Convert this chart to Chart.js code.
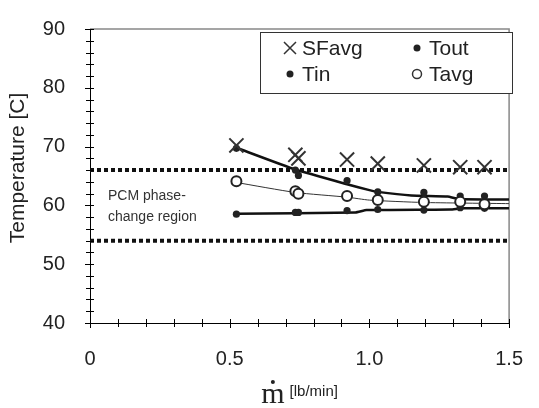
<!DOCTYPE html>
<html>
<head>
<meta charset="utf-8">
<script src="https://cdn.jsdelivr.net/npm/chart.js@4.4.1/dist/chart.umd.min.js"></script>
<style>
  html, body { margin: 0; padding: 0; background: #fff; }
</style>
</head>
<body>
<canvas id="mycanvas" width="539" height="408"></canvas>
<script>
// measured points (mass flow in lb/min)
var flow  = [0.524, 0.735, 0.746, 0.92, 1.03, 1.195, 1.325, 1.412];
var sfAvg = [70.2, 68.6, 68.0, 67.8, 67.1, 66.8, 66.5, 66.5];
var tOut  = [69.7, 66.0, 65.1, 64.2, 62.3, 62.2, 61.6, 61.6];
var tIn   = [58.5, 58.8, 58.8, 59.1, 59.3, 59.2, 59.6, 59.5];
var tAvg  = [64.1, 62.4, 62.0, 61.6, 60.9, 60.6, 60.6, 60.2];

// trend lines
var toutFitX = [0.524, 0.735, 0.92, 1.0, 1.03, 1.15, 1.28, 1.32, 1.5];
var toutFit  = [69.8, 66.1, 63.6, 62.6, 62.3, 61.7, 61.5, 61.1, 61.0];
var tavgFitX = [0.524, 0.735, 0.92, 1.0, 1.19, 1.5];
var tavgFit  = [63.9, 62.2, 61.4, 60.9, 60.5, 60.3];
var tinFitX  = [0.524, 0.95, 0.99, 1.29, 1.33, 1.5];
var tinFit   = [58.6, 58.8, 59.2, 59.3, 59.5, 59.5];

// PCM phase-change band
var bandX = [0, 1.5];
var bandLow = 54;
var bandHigh = 66;

var xTicks = [0, 0.5, 1, 1.5];
var yTicks = [40, 50, 60, 70, 80, 90];

function pts(xs, ys) {
  var out = [];
  for (var i = 0; i < xs.length; i++) out.push({x: xs[i], y: ys[i]});
  return out;
}

var ink = '#222';
var sans = '"Liberation Sans", Arial, sans-serif';

var chartdata = {
  datasets: [
    { label: 'SFavg', data: pts(flow, sfAvg), showLine: false, pointStyle: 'crossRot',
      pointRadius: 10, borderColor: '#333', borderWidth: 2, order: 1 },
    { label: 'Tout', data: pts(flow, tOut), showLine: false, pointStyle: 'circle',
      pointRadius: 3.6, backgroundColor: ink, borderColor: ink, borderWidth: 0, order: 2 },
    { label: 'Tin', data: pts(flow, tIn), showLine: false, pointStyle: 'circle',
      pointRadius: 3.6, backgroundColor: ink, borderColor: ink, borderWidth: 0, order: 2 },
    { label: 'Tavg', data: pts(flow, tAvg), showLine: false, pointStyle: 'circle',
      pointRadius: 5, backgroundColor: '#fff', borderColor: ink, borderWidth: 2, order: 0 },
    { label: 'toutFit', data: pts(toutFitX, toutFit), showLine: true, pointRadius: 0,
      borderColor: '#111', borderWidth: 2.5, tension: 0.15, order: 5 },
    { label: 'tavgFit', data: pts(tavgFitX, tavgFit), showLine: true, pointRadius: 0,
      borderColor: '#333', borderWidth: 1, tension: 0.2, order: 5 },
    { label: 'tinFit', data: pts(tinFitX, tinFit), showLine: true, pointRadius: 0,
      borderColor: '#111', borderWidth: 2.5, tension: 0.15, order: 5 },
    { label: 'bandHigh', data: pts(bandX, [bandHigh, bandHigh]), showLine: true, pointRadius: 0,
      borderColor: '#111', borderWidth: 4, borderDash: [4, 3], order: 6 },
    { label: 'bandLow', data: pts(bandX, [bandLow, bandLow]), showLine: true, pointRadius: 0,
      borderColor: '#111', borderWidth: 4, borderDash: [4, 3], order: 6 }
  ]
};

// ticks crossing the axes, frame, legend box, titles
var decor = {
  id: 'decor',
  beforeDatasetsDraw: function(chart) {
    var ctx = chart.ctx, a = chart.chartArea;
    ctx.save();
    ctx.strokeStyle = '#888';
    ctx.lineWidth = 1.5;
    ctx.beginPath();
    ctx.moveTo(a.left, a.top); ctx.lineTo(a.right, a.top); ctx.lineTo(a.right, a.bottom);
    ctx.stroke();
    ctx.restore();
  },
  afterDraw: function(chart) {
    var ctx = chart.ctx, a = chart.chartArea;
    var xs = chart.scales.x, ys = chart.scales.y;
    ctx.save();
    ctx.strokeStyle = '#000';
    ctx.lineWidth = 1;
    ctx.beginPath();
    for (var v = 40; v <= 90; v += 2) {
      var py = Math.round(ys.getPixelForValue(v)) + 0.5;
      var major = v % 10 === 0;
      ctx.moveTo(a.left - (major ? 5 : 4), py); ctx.lineTo(a.left + 4, py);
    }
    for (var k = 0; k <= 15; k++) {
      var px = Math.round(xs.getPixelForValue(k / 10)) + 0.5;
      var maj = k % 5 === 0;
      ctx.moveTo(px, a.bottom - 4); ctx.lineTo(px, a.bottom + (maj ? 5 : 4));
    }
    ctx.stroke();

    // region label
    ctx.fillStyle = '#333';
    ctx.font = '14px ' + sans;
    ctx.textAlign = 'left';
    ctx.textBaseline = 'alphabetic';
    ctx.fillText('PCM phase-', 108, 200);
    ctx.fillText('change region', 108, 221);

    // legend
    var lx = 260, ly = 32, lw = 252, lh = 61;
    ctx.fillStyle = '#fff';
    ctx.fillRect(lx, ly, lw, lh);
    ctx.strokeStyle = '#333';
    ctx.lineWidth = 1;
    ctx.strokeRect(lx + 0.5, ly + 0.5, lw, lh);
    var items = [
      {t: 'SFavg', m: 'x', x: 290, y: 48},
      {t: 'Tout', m: 'dot', x: 417, y: 48},
      {t: 'Tin', m: 'dot', x: 290, y: 74},
      {t: 'Tavg', m: 'ring', x: 417, y: 74}
    ];
    ctx.font = '21px ' + sans;
    ctx.textBaseline = 'middle';
    items.forEach(function(it) {
      ctx.strokeStyle = '#333';
      ctx.fillStyle = ink;
      if (it.m === 'x') {
        ctx.lineWidth = 1.5;
        ctx.beginPath();
        ctx.moveTo(it.x - 6, it.y - 6); ctx.lineTo(it.x + 6, it.y + 6);
        ctx.moveTo(it.x + 6, it.y - 6); ctx.lineTo(it.x - 6, it.y + 6);
        ctx.stroke();
      } else if (it.m === 'dot') {
        ctx.beginPath(); ctx.arc(it.x, it.y, 3.5, 0, Math.PI * 2); ctx.fill();
      } else {
        ctx.lineWidth = 1.5;
        ctx.beginPath(); ctx.arc(it.x, it.y, 4.5, 0, Math.PI * 2); ctx.stroke();
      }
      ctx.fillStyle = ink;
      ctx.fillText(it.t, it.x + 12, it.y + 1);
    });

    // y title
    ctx.save();
    ctx.translate(18, 168);
    ctx.rotate(-Math.PI / 2);
    ctx.textAlign = 'center';
    ctx.textBaseline = 'middle';
    ctx.font = '21px ' + sans;
    ctx.fillStyle = ink;
    ctx.fillText('Temperature [C]', 0, 0);
    ctx.restore();

    // x title: m-dot in serif + unit
    var cx = (a.left + a.right) / 2;
    ctx.textBaseline = 'alphabetic';
    ctx.font = '30px "Liberation Serif", "Times New Roman", serif';
    var w1 = ctx.measureText('m').width;
    ctx.font = '15px ' + sans;
    var w2 = ctx.measureText('[lb/min]').width;
    var start = cx - (w1 + 5 + w2) / 2;
    ctx.fillStyle = ink;
    ctx.font = '30px "Liberation Serif", "Times New Roman", serif';
    ctx.textAlign = 'left';
    ctx.fillText('m', start, 403);
    ctx.beginPath(); ctx.arc(start + w1 / 2, 382, 2, 0, Math.PI * 2); ctx.fill();
    ctx.font = '15px ' + sans;
    ctx.fillText('[lb/min]', start + w1 + 5, 396);
    ctx.restore();
  }
};

var ctx = document.getElementById('mycanvas');
var chart = new Chart(ctx, {
  type: 'scatter',
  data: chartdata,
  options: {
    responsive: false,
    animation: false,
    layout: { padding: { top: 20, right: 17, left: 0, bottom: 0 } },
    plugins: { legend: { display: false }, tooltip: { enabled: false } },
    scales: {
      x: {
        type: 'linear', min: 0, max: 1.5,
        afterBuildTicks: function(s) { s.ticks = xTicks.map(function(v) { return {value: v}; }); },
        afterFit: function(s) { s.height = 85; },
        grid: { display: false },
        border: { display: true, color: '#000', width: 1 },
        ticks: { color: ink, padding: 16, font: { size: 20, family: sans },
          maxRotation: 0, autoSkip: false }
      },
      y: {
        type: 'linear', min: 40, max: 90,
        afterBuildTicks: function(s) { s.ticks = yTicks.map(function(v) { return {value: v}; }); },
        afterFit: function(s) { s.width = 90; },
        grid: { display: false },
        border: { display: true, color: '#000', width: 1 },
        ticks: { color: ink, padding: 17, font: { size: 20, family: sans } }
      }
    }
  },
  plugins: [decor]
});
</script>
</body>
</html>
